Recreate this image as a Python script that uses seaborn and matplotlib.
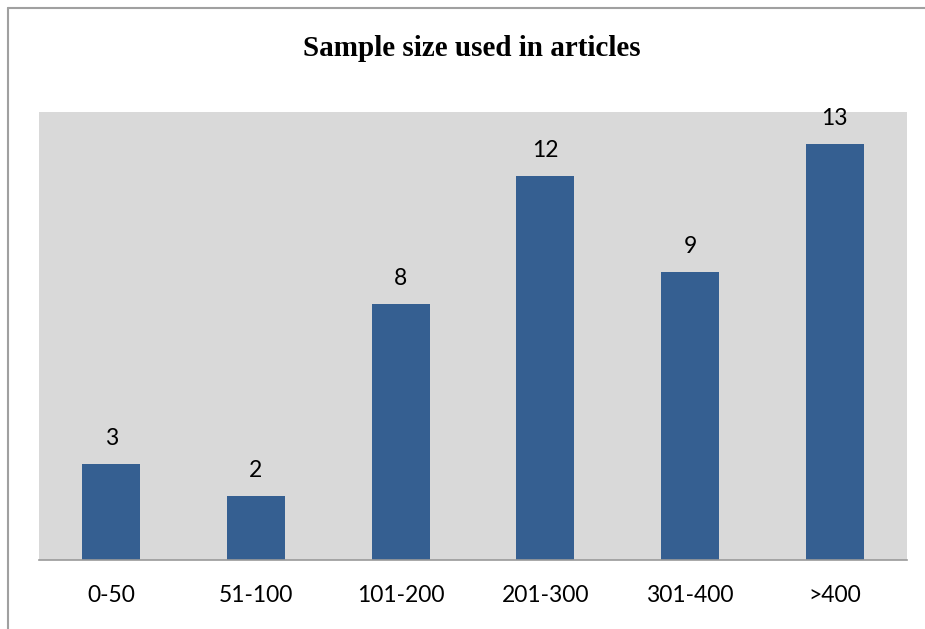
import matplotlib
matplotlib.use("Agg")
import matplotlib.pyplot as plt
import seaborn as sns
import pandas as pd
from matplotlib.lines import Line2D

categories = ["0-50", "51-100", "101-200", "201-300", "301-400", ">400"]
counts = [3, 2, 8, 12, 9, 13]

df = pd.DataFrame({"Sample size": categories, "Articles": counts})

sns.set_theme(style="white")
plt.rcParams["font.family"] = ["Lato", "DejaVu Sans"]
plt.rcParams["text.color"] = "black"

fig = plt.figure(figsize=(9.25, 6.29), dpi=100)
ax = fig.add_axes([39 / 925, 69 / 629, 868 / 925, 448 / 629])
ax.set_facecolor("#d9d9d9")

sns.barplot(data=df, x="Sample size", y="Articles", color="#355f91",
            width=0.4, saturation=1, linewidth=0, ax=ax)

ax.set_ylim(0, 14)
ax.set_xlim(-0.5, len(categories) - 0.5)
ax.set_yticks([])
ax.set_xlabel("")
ax.set_ylabel("")
for side in ["top", "right", "left"]:
    ax.spines[side].set_visible(False)
ax.spines["bottom"].set_color("#9a9a9a")
ax.spines["bottom"].set_linewidth(1.2)
ax.tick_params(axis="x", length=0, pad=18, labelsize=16.5, colors="black")

for p in ax.patches:
    ax.annotate(f"{int(p.get_height())}",
                (p.get_x() + p.get_width() / 2, p.get_height()),
                ha="center", va="bottom", xytext=(0, 11),
                textcoords="offset points", fontsize=16.5, color="black")

fig.text(472 / 925, 1 - 48 / 629, "Sample size used in articles",
         ha="center", va="center", fontsize=21, fontweight="bold",
         family="Liberation Serif", color="black")

# outer chart frame (cropped on right and bottom)
fig.add_artist(Line2D([7.5 / 925, 7.5 / 925], [0, 1 - 7.5 / 629],
                      transform=fig.transFigure, color="#a0a0a0", lw=1.5))
fig.add_artist(Line2D([7.5 / 925, 1], [1 - 7.5 / 629, 1 - 7.5 / 629],
                      transform=fig.transFigure, color="#a0a0a0", lw=1.5))

fig.savefig("out.png", dpi=100)
